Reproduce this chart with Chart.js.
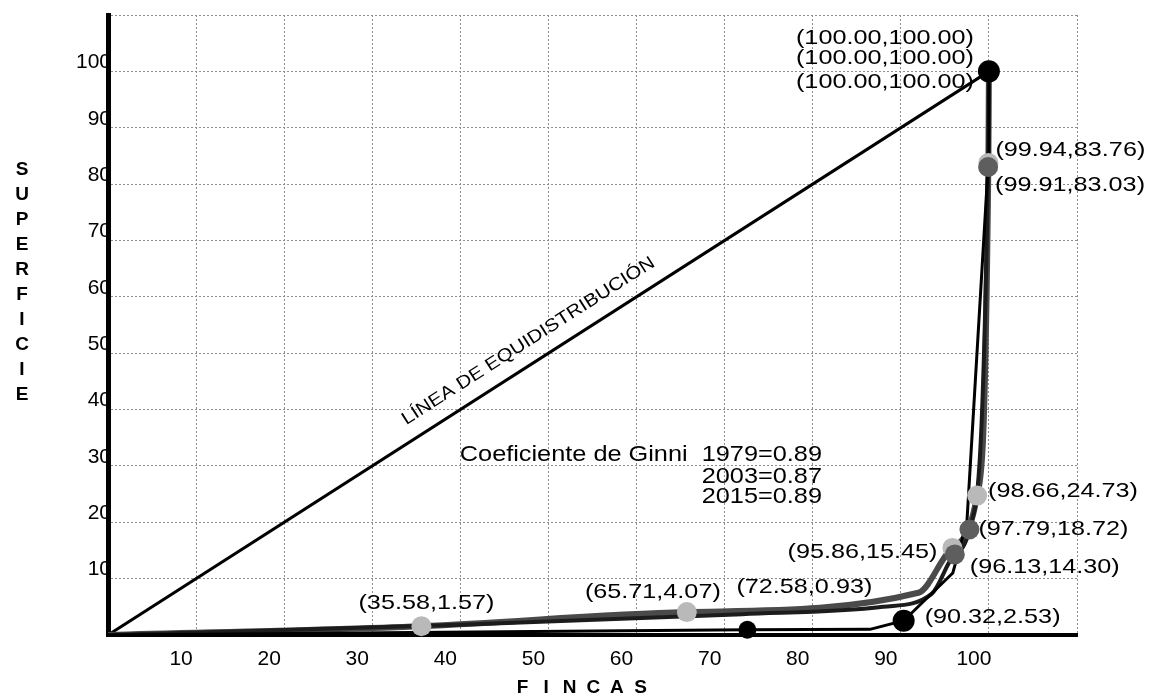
<!DOCTYPE html>
<html>
<head>
<meta charset="utf-8">
<script src="https://cdn.jsdelivr.net/npm/chart.js@4.4.0/dist/chart.umd.min.js"></script>
<style>
html,body{margin:0;padding:0;background:#fff;}
canvas{display:block;}
</style>
</head>
<body>
<canvas id="c" width="1150" height="699"></canvas>
<script>
// ---- Tick labels ----
const xTickLabels = [10, 20, 30, 40, 50, 60, 70, 80, 90, 100];
const yTickLabels = [10, 20, 30, 40, 50, 60, 70, 80, 90, 100];

// ---- Curva negra (thin polyline) ----
const blackX = [0, 72.58, 86.5, 90.32, 95.9, 97.5, 99.92, 100];
const blackY = [0, 0.93, 1.0, 2.53, 11.0, 20.0, 83.4, 100];
const blackMarked = [0, 1, 0, 1, 0, 0, 0, 1];

// ---- Curva gris oscuro ----
const darkX = [0, 40, 72, 88, 93.5, 96.13, 97.79, 99.91, 100];
const darkY = [0, 1.8, 3.7, 5.0, 7.3, 14.30, 18.72, 83.03, 100];
const darkMarked = [0, 0, 0, 0, 0, 1, 1, 1, 1];

// ---- Curva gris claro ----
const lightX = [0, 35.58, 65.71, 92, 95.86, 98.66, 99.94, 100];
const lightY = [0, 1.57, 4.07, 7.5, 15.45, 24.73, 83.76, 100];
const lightMarked = [0, 1, 1, 0, 1, 1, 1, 1];

// ---- Línea de equidistribución ----
const equiX = [0, 100];
const equiY = [0, 100];

// ---- Texts ----
const yTitle = 'SUPERFICIE';
const xTitle = 'FINCAS';
const equiLabel = 'LÍNEA DE EQUIDISTRIBUCIÓN';
const giniLines = ['Coeficiente de Ginni  1979=0.89', '2003=0.87', '2015=0.89'];

// ---- Label placement (pixel offsets from the point) ----
const blackLabelPos = [ {i:1, a:'center', dx:57, dy:-43}, {i:3, a:'left', dx:21, dy:-4}, {i:7, a:'right', dx:-15, dy:11} ];
const darkLabelPos  = [ {i:5, a:'left', dx:15, dy:13}, {i:6, a:'left', dx:9, dy:0}, {i:7, a:'left', dx:7, dy:18}, {i:8, a:'right', dx:-15, dy:-13} ];
const lightLabelPos = [ {i:1, a:'center', dx:5, dy:-23}, {i:2, a:'center', dx:-34, dy:-20}, {i:4, a:'right', dx:-15, dy:4},
                        {i:5, a:'left', dx:11, dy:-4}, {i:6, a:'left', dx:7, dy:-13}, {i:7, a:'right', dx:-15, dy:-33} ];

function pts(xs, ys) { return xs.map((x, k) => ({x: x, y: ys[k]})); }
function markedPts(xs, ys, m) { return pts(xs, ys).filter((p, k) => m[k]); }

const FONT = '"Liberation Sans", Arial, sans-serif';

function stretchText(ctx, text, x, y, font, sx, align) {
  ctx.save();
  ctx.font = font;
  ctx.textBaseline = 'middle';
  ctx.textAlign = 'left';
  const w = ctx.measureText(text).width * sx;
  const left = align === 'right' ? x - w : (align === 'center' ? x - w / 2 : x);
  ctx.translate(left, y);
  ctx.scale(sx, 1);
  ctx.fillText(text, 0, 0);
  ctx.restore();
}

const annotations = {
  id: 'annotations',
  afterDatasetsDraw(chart) {
    const ctx = chart.ctx;
    const xs = chart.scales.x, ys = chart.scales.y;
    ctx.fillStyle = '#000';
    const fmt = (p) => '(' + p.x.toFixed(2) + ',' + p.y.toFixed(2) + ')';
    const groups = [
      [blackX, blackY, blackLabelPos],
      [darkX, darkY, darkLabelPos],
      [lightX, lightY, lightLabelPos]
    ];
    groups.forEach(([gx, gy, lp]) => {
      lp.forEach(l => {
        const p = {x: gx[l.i], y: gy[l.i]};
        const px = xs.getPixelForValue(p.x), py = ys.getPixelForValue(p.y);
        stretchText(ctx, fmt(p), px + l.dx, py + l.dy, '21px ' + FONT, 1.2, l.a);
      });
    });

    // Gini coefficient text (anchored in data coordinates)
    const gx = xs.getPixelForValue(81.05);
    stretchText(ctx, giniLines[0], gx, ys.getPixelForValue(31.9), '22px ' + FONT, 1.15, 'right');
    stretchText(ctx, giniLines[1], gx, ys.getPixelForValue(28.0), '22px ' + FONT, 1.15, 'right');
    stretchText(ctx, giniLines[2], gx, ys.getPixelForValue(24.5), '22px ' + FONT, 1.15, 'right');

    // Label along the equidistribution line
    const x0 = xs.getPixelForValue(equiX[0]), y0 = ys.getPixelForValue(equiY[0]);
    const x1 = xs.getPixelForValue(equiX[1]), y1 = ys.getPixelForValue(equiY[1]);
    const ang = Math.atan2(y1 - y0, x1 - x0);
    const ax = xs.getPixelForValue(49), ay = ys.getPixelForValue(49);
    const nx = Math.sin(ang), ny = -Math.cos(ang);
    ctx.save();
    ctx.translate(ax + 21 * nx, ay + 21 * ny);
    ctx.rotate(ang);
    stretchText(ctx, equiLabel, 0, 0, '18px ' + FONT, 1.14, 'center');
    ctx.restore();
  },
  afterDraw(chart) {
    const ctx = chart.ctx;
    const ca = chart.chartArea;
    ctx.save();
    ctx.fillStyle = '#000';
    ctx.font = 'bold 19px ' + FONT;
    ctx.textAlign = 'center';
    ctx.textBaseline = 'middle';
    // stacked vertical title
    for (let k = 0; k < yTitle.length; k++) {
      ctx.fillText(yTitle[k], 22, 170 + 25 * k);
    }
    // spaced horizontal title
    const cx = (ca.left + ca.right) / 2 - 11;
    const sp = 23.6;
    for (let k = 0; k < xTitle.length; k++) {
      ctx.fillText(xTitle[k], cx + (k - (xTitle.length - 1) / 2) * sp, 688);
    }
    ctx.restore();
  }
};

const data = {
  datasets: [
    { data: markedPts(blackX, blackY, blackMarked), showLine: false, clip: false,
      pointRadius: [9, 11, 11], pointBackgroundColor: '#000', pointBorderColor: '#000', pointBorderWidth: 0 },
    { data: markedPts(darkX, darkY, darkMarked), showLine: false, clip: false,
      pointRadius: 10, pointBackgroundColor: '#5e5e5e', pointBorderColor: '#5e5e5e', pointBorderWidth: 0 },
    { data: markedPts(lightX, lightY, lightMarked), showLine: false, clip: false,
      pointRadius: 10, pointBackgroundColor: '#b9b9b9', pointBorderColor: '#b9b9b9', pointBorderWidth: 0 },
    { data: pts(blackX, blackY), borderColor: '#000', borderWidth: 3, pointRadius: 0, tension: 0, fill: false },
    { data: pts(darkX, darkY), borderColor: '#1c1c1c', borderWidth: 4, pointRadius: 0, cubicInterpolationMode: 'monotone', fill: false },
    { data: pts(lightX, lightY), borderColor: '#4a4a4a', borderWidth: 6, pointRadius: 0, cubicInterpolationMode: 'monotone', fill: false },
    { data: pts(equiX, equiY), borderColor: '#000', borderWidth: 3, pointRadius: 0, tension: 0, fill: false }
  ]
};

new Chart(document.getElementById('c'), {
  type: 'line',
  data: data,
  plugins: [annotations],
  options: {
    responsive: false,
    animation: false,
    devicePixelRatio: 1,
    layout: { padding: { top: 15, right: 73, left: 0, bottom: 0 } },
    plugins: { legend: { display: false }, tooltip: { enabled: false } },
    scales: {
      x: {
        type: 'linear', min: 0, max: 110,
        ticks: {
          stepSize: 10, autoSkip: false, maxRotation: 0, padding: 12, labelOffset: -15,
          color: '#000', font: { family: FONT, size: 21 },
          callback: (v) => xTickLabels.includes(v) ? String(v) : ''
        },
        grid: { color: '#8c8c8c', lineWidth: 1, drawTicks: false },
        border: { display: true, color: '#000', width: 4, dash: [2, 2] },
        afterFit: (s) => { s.height = 64; }
      },
      y: {
        type: 'linear', min: 0, max: 110,
        ticks: {
          stepSize: 10, autoSkip: false, padding: -3, labelOffset: -9,
          color: '#000', font: { family: FONT, size: 21 },
          callback: (v) => yTickLabels.includes(v) ? String(v) : ''
        },
        grid: { color: '#8c8c8c', lineWidth: 1, drawTicks: false },
        border: { display: true, color: '#000', width: 5, dash: [2, 2] },
        afterFit: (s) => { s.width = 108; }
      }
    }
  }
});
</script>
</body>
</html>
